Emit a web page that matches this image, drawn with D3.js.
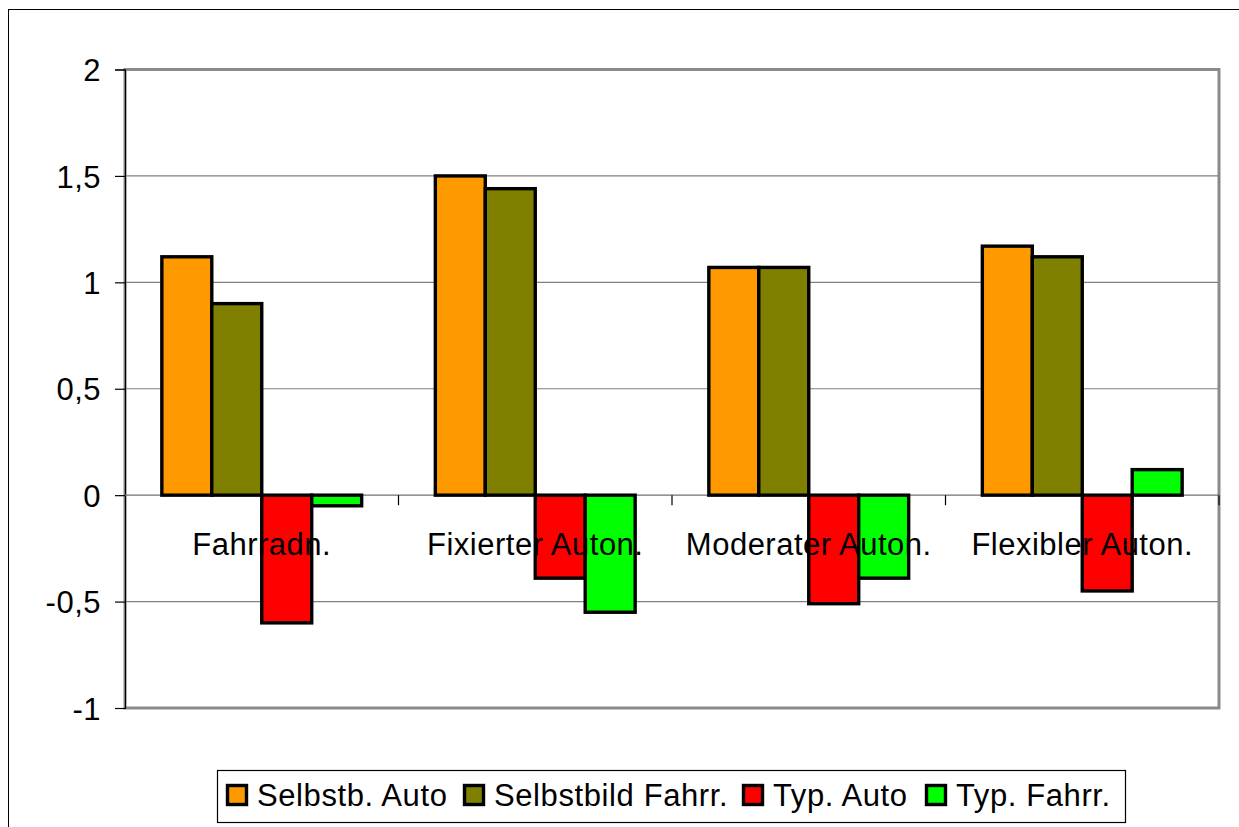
<!DOCTYPE html>
<html><head><meta charset="utf-8">
<script src="https://cdn.jsdelivr.net/npm/d3@7"></script>
<style>html,body{margin:0;padding:0;background:#fff;}svg{display:block;}</style>
</head><body>
<script>
const categories = ["Fahrradn.", "Fixierter Auton.", "Moderater Auton.", "Flexibler Auton."];
const seriesNames = ["Selbstb. Auto", "Selbstbild Fahrr.", "Typ. Auto", "Typ. Fahrr."];
const seriesColors = ["#FF9900", "#808000", "#FF0000", "#00FF00"];
const selbstbAuto = [1.12, 1.50, 1.07, 1.17];
const selbstbildFahrr = [0.90, 1.44, 1.07, 1.12];
const typAuto = [-0.60, -0.39, -0.51, -0.45];
const typFahrr = [-0.05, -0.55, -0.39, 0.12];
const yTicks = [-1, -0.5, 0, 0.5, 1, 1.5, 2];

const seriesValues = [selbstbAuto, selbstbildFahrr, typAuto, typFahrr];
const W = 1239, H = 827;
const L = 125, R = 1219, T = 69.5, B = 708;
const font = "'Liberation Sans', Arial, sans-serif";

const svg = d3.select("body").append("svg").attr("width", W).attr("height", H);
svg.append("rect").attr("width", W).attr("height", H).attr("fill", "#fff");
svg.append("rect").attr("x", 8.5).attr("y", 9.5).attr("width", W).attr("height", H)
  .attr("fill", "none").attr("stroke", "#000").attr("stroke-width", 1);

const y = d3.scaleLinear().domain([-1, 2]).range([B, T]);
const x0 = d3.scaleBand().domain(categories).range([L, R]).padding(0);
const x1 = d3.scaleBand().domain(seriesNames).range([0, x0.bandwidth()]).paddingInner(0).paddingOuter(0.7375);

svg.append("g").selectAll("line").data(yTicks.filter(d => d !== 0 && d !== 2 && d !== -1)).join("line")
  .attr("x1", L).attr("x2", R).attr("y1", d => y(d)).attr("y2", d => y(d))
  .attr("stroke", "#808080").attr("stroke-width", 1.2);

svg.append("rect").attr("x", L).attr("y", T).attr("width", R - L).attr("height", B - T)
  .attr("fill", "none").attr("stroke", "#8a8a8a").attr("stroke-width", 3);

const yAxis = d3.axisLeft(y).tickValues(yTicks).tickSize(10).tickPadding(14)
  .tickFormat(d => String(d).replace(".", ","));
const gy = svg.append("g").attr("transform", `translate(${L},0)`).call(yAxis);
gy.select(".domain").attr("stroke", "#000").attr("stroke-width", 1.2);
gy.selectAll(".tick line").attr("stroke", "#000").attr("stroke-width", 1.2);
gy.selectAll(".tick text").attr("font-family", font).attr("font-size", 31).attr("letter-spacing", 0.5)
  .attr("fill", "#000").attr("dy", "0.36em");

svg.append("line").attr("x1", L).attr("x2", R).attr("y1", y(0)).attr("y2", y(0))
  .attr("stroke", "#707070").attr("stroke-width", 1.3);
const boundaries = categories.map(c => x0(c)).concat([x0(categories[categories.length - 1]) + x0.bandwidth()]);
svg.append("g").selectAll("line").data(boundaries.slice(1)).join("line")
  .attr("x1", d => d).attr("x2", d => d).attr("y1", y(0)).attr("y2", y(0) + 10)
  .attr("stroke", "#000").attr("stroke-width", 1.2);

const barData = [];
categories.forEach((c, i) => seriesNames.forEach((s, j) => barData.push({c, s, j, v: seriesValues[j][i]})));
svg.append("g").selectAll("rect").data(barData).join("rect")
  .attr("x", d => x0(d.c) + x1(d.s))
  .attr("width", x1.bandwidth())
  .attr("y", d => y(Math.max(0, d.v)))
  .attr("height", d => Math.abs(y(d.v) - y(0)))
  .attr("fill", d => seriesColors[d.j])
  .attr("stroke", "#000").attr("stroke-width", 3.4);

svg.append("g").selectAll("text").data(categories).join("text")
  .attr("x", d => x0(d) + x0.bandwidth() / 2).attr("y", 555)
  .attr("text-anchor", "middle").attr("font-family", font).attr("font-size", 31).attr("letter-spacing", 0.5)
  .attr("fill", "#000").text(d => d);

const lg = svg.append("g");
lg.append("rect").attr("x", 217.5).attr("y", 770.5).attr("width", 908).attr("height", 52)
  .attr("fill", "#fff").attr("stroke", "#000").attr("stroke-width", 1.2);
const legendX = [226, 463, 742, 925];
seriesNames.forEach((s, j) => {
  const g = lg.append("g").attr("transform", `translate(${legendX[j]},0)`);
  g.append("rect").attr("x", 1.5).attr("y", 785.5).attr("width", 19).attr("height", 19)
    .attr("fill", seriesColors[j]).attr("stroke", "#000").attr("stroke-width", 3.4);
  g.append("text").attr("x", 31).attr("y", 806).attr("font-family", font).attr("font-size", 31)
    .attr("letter-spacing", 0.6).attr("fill", "#000").text(s);
});
</script>
</body></html>
